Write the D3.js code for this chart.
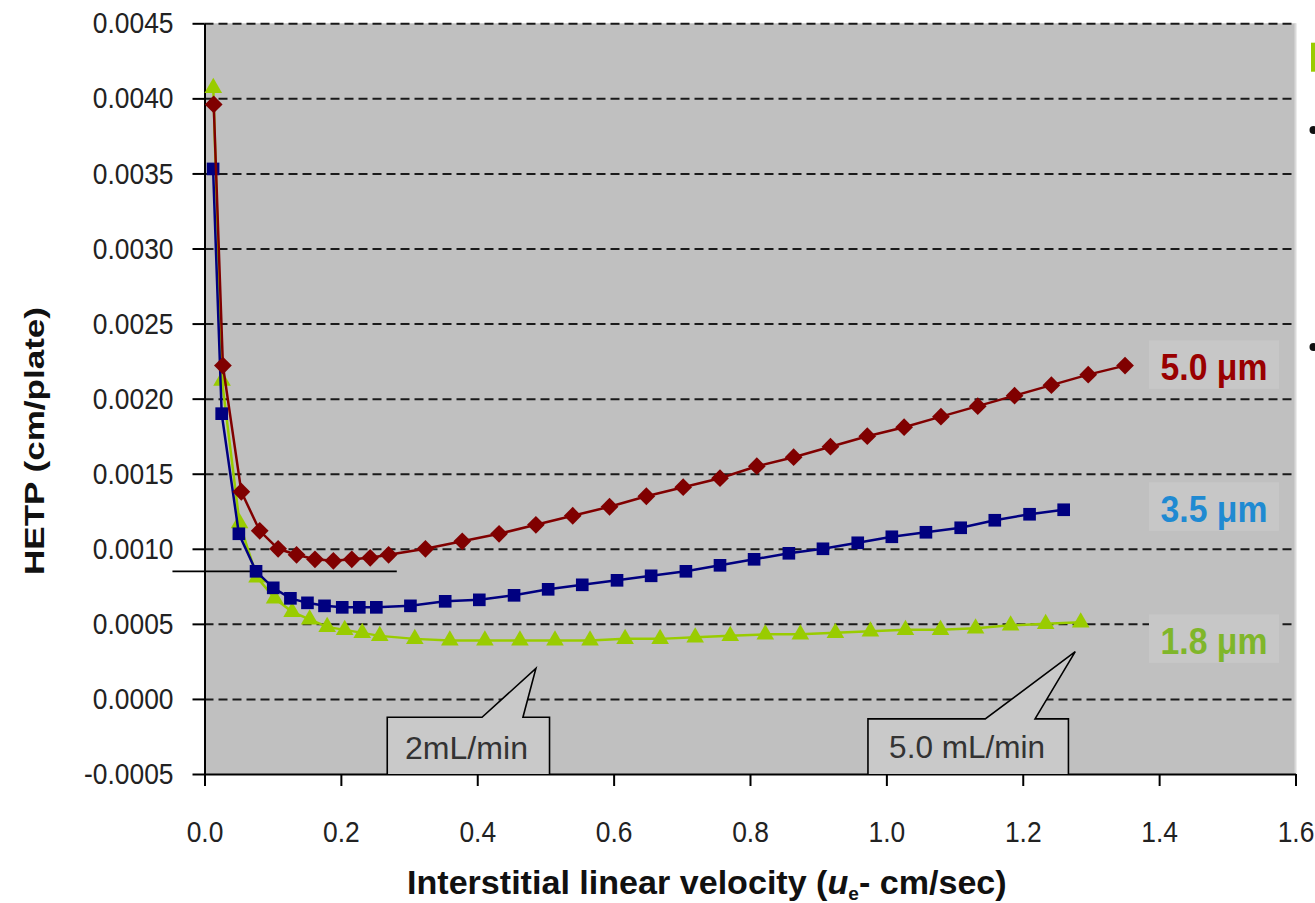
<!DOCTYPE html>
<html>
<head>
<meta charset="utf-8">
<title>HETP vs interstitial linear velocity</title>
<script src="https://cdnjs.cloudflare.com/ajax/libs/d3/7.8.5/d3.min.js"></script>
<style>
    body { margin: 0; background: #fff; }
    #chart svg { display: block; }
    .narrow { font-family: "Liberation Sans", Arial, sans-serif; }
    .axis text { font-size: 30px; fill: #222; }
    .axis path, .axis line { stroke: #000; stroke-width: 2px; }
    .grid line { stroke: #1a1a1a; stroke-width: 2px; stroke-dasharray: 9, 5; }
    .grid path { display: none; }
    .series-line { fill: none; stroke-width: 2.5px; }
    .size-label { font-weight: bold; font-size: 37px; }
    .callout path { fill: #c9c9c9; stroke: #000; stroke-width: 1.6px; }
    .callout text { font-size: 32px; fill: #333; }
    .axis-title { font-weight: bold; fill: #111; }
</style>
</head>
<body>
<div id="chart"></div>
<script>

// interstitial linear velocity (cm/sec) and HETP (cm/plate)
var velocity18 = [0.0129, 0.0257, 0.0514, 0.0771, 0.1028, 0.1285, 0.1542, 0.1799, 0.2056, 0.2313, 0.257,
    0.3084, 0.3598, 0.4112, 0.4626, 0.514, 0.5654, 0.6168, 0.6682, 0.7196, 0.771, 0.8224, 0.8738,
    0.9252, 0.9766, 1.028, 1.0794, 1.1308, 1.1822, 1.2336, 1.285];
var hetp18 = [0.00407, 0.00212, 0.00117, 0.00081, 0.00067, 0.00058, 0.00053, 0.00048, 0.00046, 0.00044, 0.00042,
    0.00040, 0.00039, 0.00039, 0.00039, 0.00039, 0.00039, 0.00040, 0.00040, 0.00041, 0.00042, 0.00043, 0.00043,
    0.00044, 0.00045, 0.00046, 0.00046, 0.00047, 0.00049, 0.00050, 0.00051];

var velocity35 = [0.0126, 0.0252, 0.0504, 0.0756, 0.1008, 0.126, 0.151, 0.176, 0.202, 0.227, 0.252,
    0.302, 0.353, 0.403, 0.454, 0.504, 0.554, 0.605, 0.655, 0.706, 0.756, 0.806, 0.857,
    0.907, 0.958, 1.008, 1.058, 1.109, 1.159, 1.210, 1.260];
var hetp35 = [0.00353, 0.00190, 0.00110, 0.00085, 0.00074, 0.00067, 0.00064, 0.00062, 0.00061, 0.00061, 0.00061,
    0.00062, 0.00065, 0.00066, 0.00069, 0.00073, 0.00076, 0.00079, 0.00082, 0.00085, 0.00089, 0.00093, 0.00097,
    0.00100, 0.00104, 0.00108, 0.00111, 0.00114, 0.00119, 0.00123, 0.00126];

var velocity50 = [0.0135, 0.027, 0.054, 0.081, 0.108, 0.135, 0.162, 0.189, 0.216, 0.243, 0.270,
    0.324, 0.378, 0.432, 0.486, 0.540, 0.594, 0.648, 0.702, 0.756, 0.810, 0.864, 0.918,
    0.972, 1.026, 1.080, 1.134, 1.188, 1.242, 1.296, 1.350];
var hetp50 = [0.00396, 0.00222, 0.00138, 0.00112, 0.00100, 0.00096, 0.00093, 0.00092, 0.00093, 0.00094, 0.00096,
    0.00100, 0.00105, 0.00110, 0.00116, 0.00122, 0.00128, 0.00135, 0.00141, 0.00147, 0.00155, 0.00161, 0.00168,
    0.00175, 0.00181, 0.00188, 0.00195, 0.00202, 0.00209, 0.00216, 0.00222];

var sizeLabels = ["1.8 \u03bcm", "3.5 \u03bcm", "5.0 \u03bcm"];
var flowLabels = ["2mL/min", "5.0 mL/min"];

var xTicks = [0, 0.2, 0.4, 0.6, 0.8, 1.0, 1.2, 1.4, 1.6];
var yTicks = [-0.0005, 0, 0.0005, 0.0010, 0.0015, 0.0020, 0.0025, 0.0030, 0.0035, 0.0040, 0.0045];

// styles, drawn in this order (green under blue under red)
var seriesStyle = [
    {x: velocity18, y: hetp18, color: "#99cc00", label: "#7fb62a", symbol: "triangle"},
    {x: velocity35, y: hetp35, color: "#000080", label: "#1f8ad2", symbol: "square"},
    {x: velocity50, y: hetp50, color: "#800000", label: "#990000", symbol: "diamond"}
];
// label anchors in data units (x of text start, y of baseline)
var labelAt = [
    {x: 1.402, y: 0.000300},
    {x: 1.402, y: 0.001180},
    {x: 1.402, y: 0.002125}
];
// callout boxes in data units
var callouts = [
    {x0: 0.268, x1: 0.506, top: -0.000122, b0: 0.407, b1: 0.467, tipX: 0.486, tipY: 0.000203, textX: 0.294, textY: -0.000401},
    {x0: 0.973, x1: 1.267, top: -0.000133, b0: 1.145, b1: 1.218, tipX: 1.277, tipY: 0.000315, textX: 1.004, textY: -0.000392}
];

var margin = {top: 23.3, right: 19.5, bottom: 129, left: 204.5},
    width = 1315 - margin.left - margin.right,
    height = 903 - margin.top - margin.bottom;

var squeeze = 0.88; // condensed look of the tick labels

var xScale = d3.scaleLinear().domain([0, 1.6]).range([0, width]);
var yScale = d3.scaleLinear().domain([-0.0005, 0.0045]).range([height, 0]);

var svg = d3.select("#chart")
    .append("svg")
    .attr("width", 1315)
    .attr("height", 903)
    .attr("class", "narrow");

var g = svg.append("g")
    .attr("transform", "translate(" + margin.left + "," + margin.top + ")");

// plot area
g.append("rect")
    .attr("width", width)
    .attr("height", height)
    .attr("fill", "#c0c0c0");

g.append("line")
    .attr("x1", width).attr("x2", width)
    .attr("y1", 0).attr("y2", height)
    .attr("stroke", "#dadada")
    .attr("stroke-width", 2);

// dashed grid
g.append("g")
    .attr("class", "grid")
    .call(d3.axisLeft(yScale)
        .tickValues(yTicks.filter(function (d) { return d > -0.0005; }))
        .tickSize(-width)
        .tickFormat(""));

var yAxis = d3.axisLeft(yScale)
    .tickValues(yTicks)
    .tickSize(12)
    .tickSizeOuter(0)
    .tickPadding(19)
    .tickFormat(function (d) { return d3.format(".4f")(d).replace("\u2212", "-"); });

var xAxis = d3.axisBottom(xScale)
    .tickValues(xTicks)
    .tickSize(12)
    .tickSizeOuter(0)
    .tickPadding(35)
    .tickFormat(d3.format(".1f"));

g.append("g")
    .attr("class", "y axis")
    .call(yAxis)
    .selectAll(".tick text")
    .attr("x", -31 / squeeze)
    .attr("transform", "scale(" + squeeze + ",1)");

g.append("g")
    .attr("class", "x axis")
    .attr("transform", "translate(0," + height + ")")
    .call(xAxis)
    .selectAll(".tick text")
    .attr("transform", "scale(" + squeeze + ",1)");

// black rule drawn over the plot near 0.00085
g.append("line")
    .attr("x1", xScale(-0.047)).attr("x2", xScale(0.282))
    .attr("y1", yScale(0.00085)).attr("y2", yScale(0.00085))
    .attr("stroke", "#000")
    .attr("stroke-width", 1.8);

// callouts
callouts.forEach(function (c, i) {
    var cg = g.append("g").attr("class", "callout");
    var pts = [
        [xScale(c.x0), height],
        [xScale(c.x0), yScale(c.top)],
        [xScale(c.b0), yScale(c.top)],
        [xScale(c.tipX), yScale(c.tipY)],
        [xScale(c.b1), yScale(c.top)],
        [xScale(c.x1), yScale(c.top)],
        [xScale(c.x1), height]
    ];
    cg.append("path").attr("d", d3.line()(pts));
    cg.append("text")
        .attr("x", xScale(c.textX))
        .attr("y", yScale(c.textY))
        .attr("textLength", i === 0 ? 123 : 156)
        .attr("lengthAdjust", "spacingAndGlyphs")
        .text(flowLabels[i]);
});

// series
var line = d3.line()
    .x(function (d) { return xScale(d[0]); })
    .y(function (d) { return yScale(d[1]); });

var symbols = {
    triangle: d3.symbol().type(d3.symbolTriangle).size(135)(),
    square: d3.symbol().type(d3.symbolSquare).size(160)(),
    diamond: d3.symbol().type(d3.symbolSquare).size(158)()
};

seriesStyle.forEach(function (s) {
    var pts = s.x.map(function (v, i) { return [v, s.y[i]]; });
    var sg = g.append("g");
    sg.append("path")
        .attr("class", "series-line")
        .attr("stroke", s.color)
        .attr("d", line(pts));
    sg.selectAll("path.marker")
        .data(pts)
        .enter()
        .append("path")
        .attr("class", "marker")
        .attr("fill", s.color)
        .attr("d", symbols[s.symbol])
        .attr("transform", function (d) {
            return "translate(" + xScale(d[0]) + "," + yScale(d[1]) + ")" + (s.symbol === "diamond" ? " rotate(45)" : "");
        });
});

// size labels on light boxes
seriesStyle.forEach(function (s, i) {
    var lx = xScale(labelAt[i].x), ly = yScale(labelAt[i].y);
    g.append("rect")
        .attr("x", lx - 11.5)
        .attr("y", ly - 39.5)
        .attr("width", 130)
        .attr("height", 48.5)
        .attr("fill", "#c7c7c7");
    g.append("text")
        .attr("class", "size-label")
        .attr("x", lx)
        .attr("y", ly)
        .attr("fill", s.label)
        .attr("textLength", 107)
        .attr("lengthAdjust", "spacingAndGlyphs")
        .text(sizeLabels[i]);
});

// axis titles
var xTitle = svg.append("text")
    .attr("class", "axis-title")
    .attr("x", 407)
    .attr("y", 894)
    .style("font-size", "34px");
xTitle.append("tspan").text("Interstitial linear velocity (");
xTitle.append("tspan").style("font-style", "italic").text("u");
xTitle.append("tspan").attr("dy", 6).style("font-size", "19px").text("e");
xTitle.append("tspan").attr("dy", -6).text("- cm/sec)");
var xw = xTitle.node().getComputedTextLength();
xTitle.attr("transform", "translate(407,0) scale(" + (600 / xw) + ",1) translate(-407,0)");

svg.append("text")
    .attr("class", "axis-title")
    .attr("transform", "translate(44,441) rotate(-90)")
    .attr("text-anchor", "middle")
    .style("font-size", "27px")
    .attr("textLength", 268)
    .attr("lengthAdjust", "spacingAndGlyphs")
    .text("HETP (cm/plate)");

// slide edge: green bar and bullets cut at the right border
svg.append("rect")
    .attr("x", 1311).attr("y", 42.7)
    .attr("width", 6).attr("height", 29)
    .attr("fill", "#99cc00");
svg.selectAll("circle.bullet")
    .data([130, 347])
    .enter()
    .append("circle")
    .attr("class", "bullet")
    .attr("cx", 1313.5)
    .attr("cy", function (d) { return d; })
    .attr("r", 4)
    .attr("fill", "#111");

</script>
</body>
</html>
